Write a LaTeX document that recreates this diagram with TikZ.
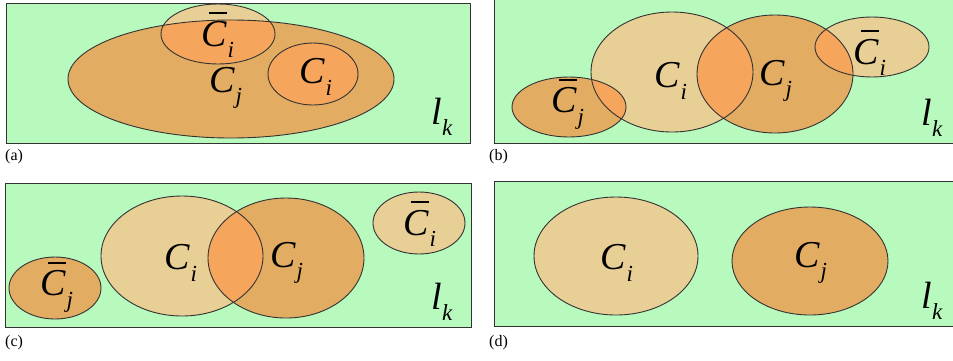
\documentclass[tikz,border=0pt]{standalone}
\usepackage{fontspec}
\setmainfont{Liberation Serif}
\definecolor{lkgreen}{RGB}{184,249,189}
\definecolor{lighttan}{RGB}{232,207,149}
\definecolor{darktan}{RGB}{226,173,99}
\definecolor{overlap}{RGB}{245,166,92}
\newcommand\setsub[1]{\raisebox{-0.3em}{\fontsize{23}{23}\selectfont\itshape #1}}
\newcommand\plainset[2]{\textit{#1}\setsub{#2}}
\newcommand\barset[2]{\textit{#1}\llap{\rule[0.84em]{0.46em}{0.045em}\hspace{0.03em}}\setsub{#2}}

\begin{document}
\begin{tikzpicture}[x=1pt, y=-1pt,
  rim/.style={draw=black!80, line width=0.9pt},
  sym/.style={font=\fontsize{38}{38}\selectfont, inner sep=0pt},
  tag/.style={font=\fontsize{16}{16}\selectfont, anchor=west, inner sep=0pt}]
\clip (0,0) rectangle (953,360);
% (a)
\fill[lkgreen] (6,3) rectangle (470,143);
\fill[darktan] (231,79) ellipse [x radius=163pt, y radius=59pt];
\fill[lighttan] (218,34) ellipse [x radius=57pt, y radius=30pt];
\begin{scope}
\clip (231,79) ellipse [x radius=163pt, y radius=59pt];
\fill[overlap] (218,34) ellipse [x radius=57pt, y radius=30pt];
\end{scope}
\fill[overlap] (313,74) ellipse [x radius=45pt, y radius=31pt];
\draw[rim] (231,79) ellipse [x radius=163pt, y radius=59pt];
\draw[rim] (218,34) ellipse [x radius=57pt, y radius=30pt];
\draw[rim] (313,74) ellipse [x radius=45pt, y radius=31pt];
\draw[rim] (6,3) rectangle (470,143);
\node[sym] (a-cbi) at (218,35) {\barset{C}{i}};
\node[sym] (a-cj) at (226,88) {\plainset{C}{j}};
\node[sym] (a-ci) at (316,77) {\plainset{C}{i}};
\node[sym] (a-lk) at (442,117) {\plainset{l}{k}};
\node[tag] (a-tag) at (5,157) {(a)};
% (b)
\fill[lkgreen] (494,-2) rectangle (960,143);
\fill[darktan] (569,107) ellipse [x radius=57pt, y radius=30pt];
\fill[lighttan] (672,72) ellipse [x radius=81pt, y radius=60pt];
\fill[darktan] (775,74) ellipse [x radius=78pt, y radius=59pt];
\fill[lighttan] (872,47) ellipse [x radius=57pt, y radius=30pt];
\begin{scope}
\clip (672,72) ellipse [x radius=81pt, y radius=60pt];
\fill[overlap] (569,107) ellipse [x radius=57pt, y radius=30pt];
\fill[overlap] (775,74) ellipse [x radius=78pt, y radius=59pt];
\end{scope}
\begin{scope}
\clip (775,74) ellipse [x radius=78pt, y radius=59pt];
\fill[overlap] (872,47) ellipse [x radius=57pt, y radius=30pt];
\end{scope}
\draw[rim] (569,107) ellipse [x radius=57pt, y radius=30pt];
\draw[rim] (672,72) ellipse [x radius=81pt, y radius=60pt];
\draw[rim] (775,74) ellipse [x radius=78pt, y radius=59pt];
\draw[rim] (872,47) ellipse [x radius=57pt, y radius=30pt];
\draw[rim] (494,-2) rectangle (960,143);
\node[sym] (b-cbj) at (568,104) {\barset{C}{j}};
\node[sym] (b-ci) at (671,81) {\plainset{C}{i}};
\node[sym] (b-cj) at (776,81) {\plainset{C}{j}};
\node[sym] (b-cbi) at (870,53) {\barset{C}{i}};
\node[sym] (b-lk) at (932,118) {\plainset{l}{k}};
\node[tag] (b-tag) at (489,157) {(b)};
% (c)
\fill[lkgreen] (5,183) rectangle (471,327);
\fill[darktan] (55,288) ellipse [x radius=46pt, y radius=31pt];
\fill[lighttan] (182,256) ellipse [x radius=81pt, y radius=60pt];
\fill[darktan] (286,258) ellipse [x radius=78pt, y radius=60pt];
\fill[lighttan] (419,223) ellipse [x radius=46pt, y radius=31pt];
\begin{scope}
\clip (182,256) ellipse [x radius=81pt, y radius=60pt];
\fill[overlap] (286,258) ellipse [x radius=78pt, y radius=60pt];
\end{scope}
\draw[rim] (55,288) ellipse [x radius=46pt, y radius=31pt];
\draw[rim] (182,256) ellipse [x radius=81pt, y radius=60pt];
\draw[rim] (286,258) ellipse [x radius=78pt, y radius=60pt];
\draw[rim] (419,223) ellipse [x radius=46pt, y radius=31pt];
\draw[rim] (5,183) rectangle (471,327);
\node[sym] (c-cbj) at (57,287) {\barset{C}{j}};
\node[sym] (c-ci) at (181,263) {\plainset{C}{i}};
\node[sym] (c-cj) at (287,263) {\plainset{C}{j}};
\node[sym] (c-cbi) at (420,224) {\barset{C}{i}};
\node[sym] (c-lk) at (442,302) {\plainset{l}{k}};
\node[tag] (c-tag) at (5,343) {(c)};
% (d)
\fill[lkgreen] (494,181) rectangle (960,326);
\fill[lighttan] (616,256) ellipse [x radius=82pt, y radius=59pt];
\fill[darktan] (810,261) ellipse [x radius=78pt, y radius=54pt];
\draw[rim] (616,256) ellipse [x radius=82pt, y radius=59pt];
\draw[rim] (810,261) ellipse [x radius=78pt, y radius=54pt];
\draw[rim] (494,181) rectangle (960,326);
\node[sym] (d-ci) at (617,263) {\plainset{C}{i}};
\node[sym] (d-cj) at (811,263) {\plainset{C}{j}};
\node[sym] (d-lk) at (932,301) {\plainset{l}{k}};
\node[tag] (d-tag) at (489,343) {(d)};
\end{tikzpicture}
\end{document}
